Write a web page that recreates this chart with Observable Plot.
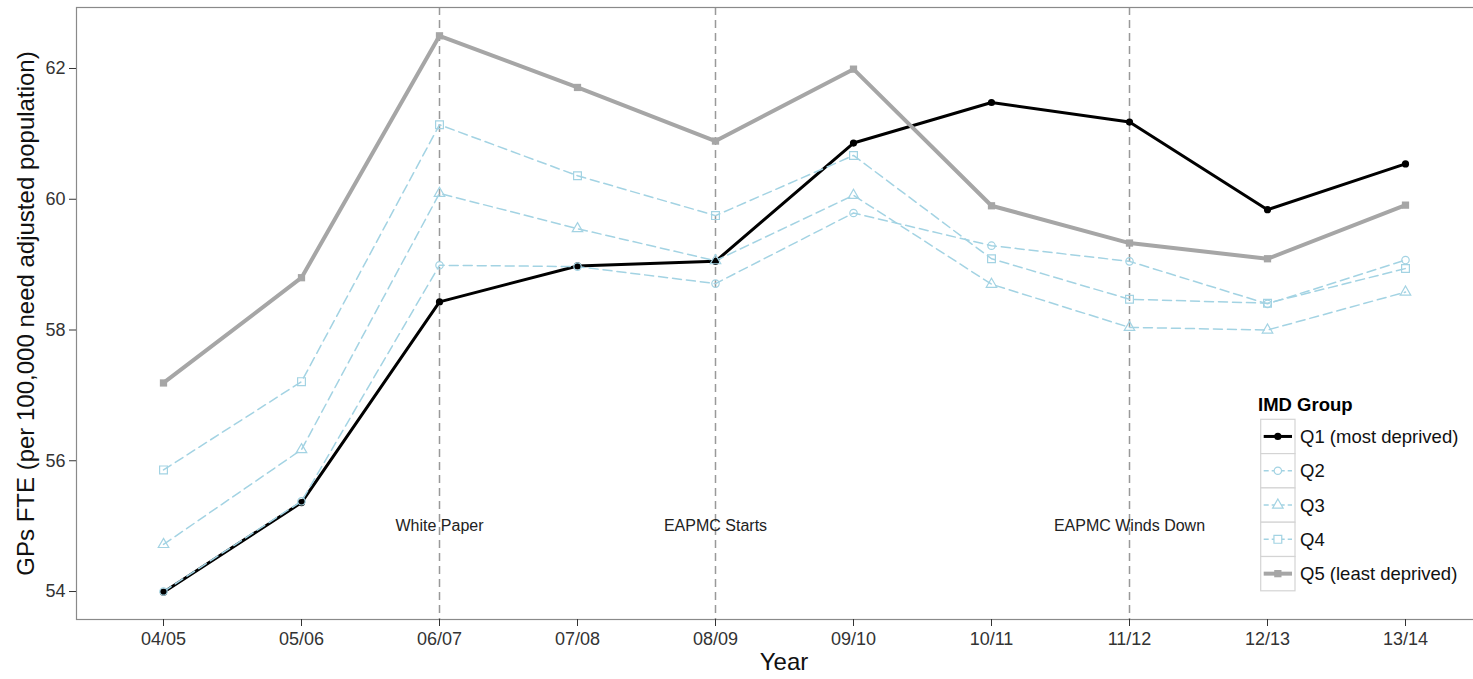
<!DOCTYPE html>
<html><head><meta charset="utf-8">
<script src="https://cdn.jsdelivr.net/npm/d3@7"></script>
<script src="https://cdn.jsdelivr.net/npm/@observablehq/plot@0.6"></script>
<style>
body{margin:0;background:#fff;}
#wrap{position:relative;width:1473px;height:679px;overflow:hidden;background:#fff;font-family:"Liberation Sans",Arial,sans-serif;}
#wrap svg.plot{position:absolute;left:0;top:0;max-width:none !important;}
#legend{position:absolute;left:1250px;top:380px;}
</style></head><body><div id="wrap"></div>
<script>
// ---- data ----
const years = ["04/05","05/06","06/07","07/08","08/09","09/10","10/11","11/12","12/13","13/14"];
const q1 = [53.99, 55.36, 58.43, 58.98, 59.05, 60.86, 61.48, 61.18, 59.84, 60.54];
const q2 = [54.00, 55.38, 58.99, 58.97, 58.71, 59.79, 59.29, 59.05, 58.40, 59.07];
const q3 = [54.72, 56.17, 60.09, 59.55, 59.06, 60.06, 58.70, 58.04, 58.00, 58.58];
const q4 = [55.86, 57.21, 61.14, 60.36, 59.75, 60.67, 59.09, 58.47, 58.41, 58.94];
const q5 = [57.19, 58.80, 62.50, 61.71, 60.89, 61.99, 59.90, 59.33, 59.09, 59.91];
const seriesNames = ["Q1 (most deprived)", "Q2", "Q3", "Q4", "Q5 (least deprived)"];
const seriesValues = [q1, q2, q3, q4, q5];
const eventYears = ["06/07", "08/09", "11/12"];
const eventLabels = ["White Paper", "EAPMC Starts", "EAPMC Winds Down"];
const eventLabelLevel = 55.0;
const yTicks = [54, 56, 58, 60, 62];
const legendTitle = "IMD Group";
const xTitle = "Year";
const yTitle = "GPs FTE (per 100,000 need adjusted population)";

// ---- styles ----
const BLUE = "#a3d3e3", GREY = "#a6a6a6";
const styles = [
  {stroke: "#000", width: 3, dash: null, symbol: "circle", fill: "#000", dotStroke: "none", r: 3.6},
  {stroke: BLUE, width: 1.5, dash: "9,5", symbol: "circle", fill: "none", dotStroke: BLUE, r: 3.7},
  {stroke: BLUE, width: 1.5, dash: "9,5", symbol: "triangle", fill: "none", dotStroke: BLUE, r: 3.9},
  {stroke: BLUE, width: 1.5, dash: "9,5", symbol: "square", fill: "none", dotStroke: BLUE, r: 4.4},
  {stroke: GREY, width: 4, dash: null, symbol: "square", fill: GREY, dotStroke: "none", r: 4.1}
];

const series = seriesNames.map((name, s) => years.map((yr, i) => ({year: yr, value: seriesValues[s][i], name})));
const events = eventYears.map((yr, i) => ({year: yr, label: eventLabels[i]}));

const FONT = "Liberation Sans, Arial, sans-serif";
const marks = [
  Plot.ruleX(events, {x: "year", stroke: "#999", strokeWidth: 1.5, strokeDasharray: "8,5"}),
  Plot.text(events, {x: "year", y: () => eventLabelLevel, text: "label", fontSize: 16, fill: "#222"}),
];
series.forEach((data, s) => {
  const st = styles[s];
  marks.push(Plot.line(data, {x: "year", y: "value", stroke: st.stroke, strokeWidth: st.width,
    strokeDasharray: st.dash || undefined, curve: "linear"}));
});
series.forEach((data, s) => {
  const st = styles[s];
  marks.push(Plot.dot(data, {x: "year", y: "value", symbol: st.symbol, r: st.r, fill: st.fill,
    stroke: st.dotStroke, strokeWidth: 1.2}));
});
marks.push(
  Plot.frame({stroke: "#8a8a8a", strokeWidth: 1.2}),
  Plot.axisY({ticks: yTicks, tickSize: 7, tickPadding: 4, fontSize: 18, label: null, stroke: "#333", fill: "#333"}),
  Plot.axisX({tickSize: 7, tickPadding: 6, fontSize: 18, label: null, stroke: "#333", fill: "#333"}),
  Plot.text([yTitle], {frameAnchor: "left", rotate: -90, dx: -50, fontSize: 24, fill: "#111",
    textAnchor: "middle", lineAnchor: "middle"}),
  Plot.text([xTitle], {frameAnchor: "bottom", dy: 43, fontSize: 24, fill: "#111",
    textAnchor: "middle", lineAnchor: "middle"})
);

const chart = Plot.plot({
  width: 1491, height: 679,
  marginLeft: 76, marginRight: 0, marginTop: 7, marginBottom: 60,
  style: {fontFamily: FONT, background: "#fff", overflow: "visible", maxWidth: "none"},
  x: {type: "point", domain: years, padding: 0.6},
  y: {domain: [53.572, 62.933]},
  marks
});
chart.classList.add("plot");
document.getElementById("wrap").appendChild(chart);

// ---- legend ----
const lg = d3.select("#wrap").append("svg").attr("id", "legend")
  .attr("width", 223).attr("height", 225).style("font-family", FONT);
lg.append("text").attr("x", 8).attr("y", 31).attr("font-size", 18.5).attr("font-weight", "bold")
  .attr("fill", "#000").text(legendTitle);
const rowH = 34.3, top0 = 39.3;
seriesNames.forEach((name, s) => {
  const st = styles[s];
  const g = lg.append("g").attr("transform", `translate(10.7,${top0 + s * rowH})`);
  g.append("rect").attr("width", 34.3).attr("height", rowH).attr("fill", "#fff").attr("stroke", "#d4d4d4").attr("stroke-width", 1.2);
  g.append("line").attr("x1", 3).attr("x2", 31.3).attr("y1", rowH / 2).attr("y2", rowH / 2)
    .attr("stroke", st.stroke).attr("stroke-width", st.width).attr("stroke-dasharray", st.dash ? "5,3" : null);
  const sym = {circle: d3.symbolCircle, triangle: d3.symbolTriangle, square: d3.symbolSquare}[st.symbol];
  g.append("path").attr("transform", `translate(17.15,${rowH / 2})`)
    .attr("d", d3.symbol(sym, Math.PI * st.r * st.r)())
    .attr("fill", st.fill === "none" ? "#fff" : st.fill).attr("stroke", st.dotStroke).attr("stroke-width", 1.2);
  lg.append("text").attr("x", 50).attr("y", top0 + s * rowH + rowH / 2).attr("dy", "0.35em")
    .attr("font-size", 18.5).attr("fill", "#111").text(name);
});
</script>
</body></html>
